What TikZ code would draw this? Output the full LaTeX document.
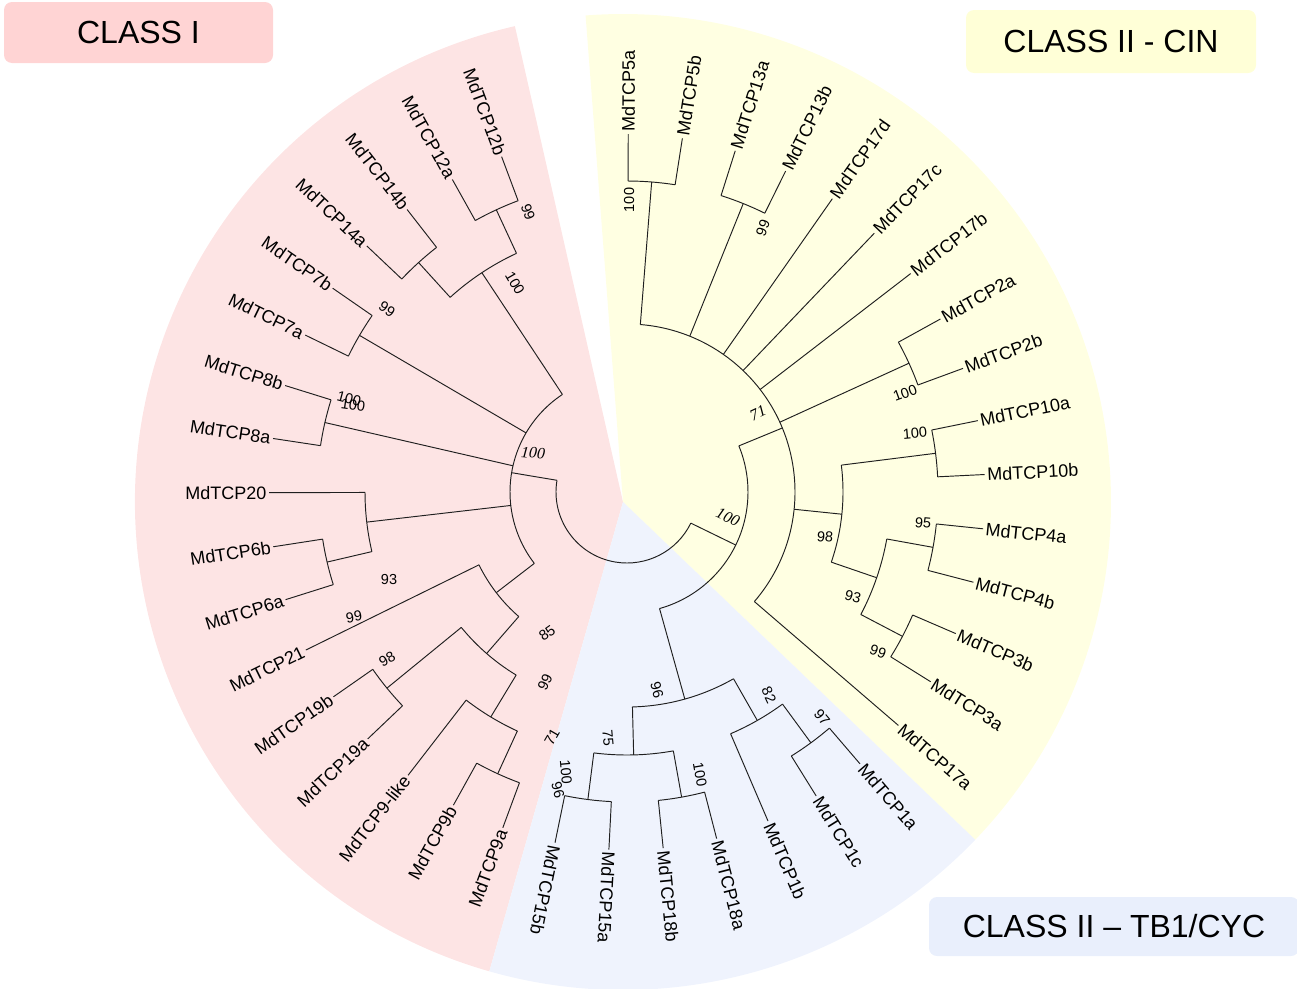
\documentclass[tikz,border=0pt]{standalone}
\usepackage{fontspec}
\setmainfont{Liberation Sans}
\newfontfamily\bsserif{Liberation Serif}
\usetikzlibrary{calc}
\definecolor{redw}{RGB}{253,228,228}
\definecolor{yelw}{RGB}{255,255,226}
\definecolor{bluew}{RGB}{239,243,253}
\definecolor{boxred}{RGB}{255,212,212}
\definecolor{boxyel}{RGB}{255,255,215}
\definecolor{boxblue}{RGB}{233,239,252}
\tikzset{
  branch/.style={line width=0.95pt, draw=black!88},
  leaf/.style={font=\fontsize{18}{20}\selectfont, inner sep=2.5pt},
  bs/.style={font=\fontsize{14.5}{16}\selectfont, inner sep=0pt},
  bss/.style={font=\bsserif\itshape\fontsize{16}{18}\selectfont, inner sep=0pt},
  classbox/.style={rounded corners=8pt, inner sep=0pt, font=\fontsize{32}{38}\selectfont}
}
\newcommand{\TArc}[3]{\draw[branch] ($(C)+(#1:#3)$) arc[start angle=#1,end angle=#2,radius=#3];}
\newcommand{\INode}[4]{%
  \coordinate (#1) at ($(C)+(#2:#3)$);
  \coordinate (#1b) at ($(C)+(#2:#4)$);
  \draw[branch] (#1b) -- (#1);}
\newcommand{\LeafR}[4]{%
  \coordinate (#1b) at ($(C)+(#3:#4)$);
  \node[leaf,anchor=west,rotate=#3] (#1) at ($(C)+(#3:358)$) {#2};
  \draw[branch] (#1b) -- (#1.west);}
\newcommand{\LeafL}[4]{%
  \coordinate (#1b) at ($(C)+(#3:#4)$);
  \node[leaf,anchor=east,rotate=#3+180] (#1) at ($(C)+(#3:358)$) {#2};
  \draw[branch] (#1b) -- (#1.east);}
\begin{document}
\begin{tikzpicture}[x=1pt,y=1pt]
\useasboundingbox (0,0) rectangle (1297,-988);
\coordinate (A) at (623,-502);
\coordinate (C) at (627,-492);
% sectors
\fill[redw] (A) -- ($(A)+(102.8:488)$) arc[start angle=102.8,end angle=254.1,radius=488] -- cycle;
\fill[yelw] (A) -- ($(A)+(-43.8:488)$) arc[start angle=-43.8,end angle=94.4,radius=488] -- cycle;
\fill[bluew] (A) -- ($(A)+(254.1:488)$) arc[start angle=254.1,end angle=316.2,radius=488] -- cycle;
% class boxes
\node[classbox, fill=boxred, minimum width=269pt, minimum height=61pt] (boxI) at (138.5,-32.5) {CLASS I};
\node[classbox, fill=boxyel, minimum width=290pt, minimum height=63pt] (boxCIN) at (1111,-41.5) {CLASS II - CIN};
\node[classbox, fill=boxblue, minimum width=370pt, minimum height=59pt] (boxTB) at (1114,-926.5) {CLASS II -- TB1/CYC};
% root
\TArc{170.5}{334}{71}
% ---------- Class I
\INode{cI}{170.5}{117}{71}
\TArc{123.5}{217.6}{117}
\INode{nA}{123.5}{263}{117}
\TArc{114.85}{132.25}{263}
\INode{nXII}{114.85}{311}{263}
\TArc{110.5}{119.2}{311}
\LeafL{lXIIa}{MdTCP12a}{119.2}{311}
\LeafL{lXIIb}{MdTCP12b}{110.5}{311}
\INode{nXIV}{132.25}{310}{263}
\TArc{127.9}{136.6}{310}
\LeafL{lXIVa}{MdTCP14a}{136.6}{310}
\LeafL{lXIVb}{MdTCP14b}{127.9}{310}
\INode{nVII}{149.65}{310}{117}
\TArc{145.3}{154}{310}
\LeafL{lVIIa}{MdTCP7a}{154}{310}
\LeafL{lVIIb}{MdTCP7b}{145.3}{310}
\INode{nVIII}{167.05}{310}{117}
\TArc{162.7}{171.4}{310}
\LeafL{lVIIIa}{MdTCP8a}{171.4}{310}
\LeafL{lVIIIb}{MdTCP8b}{162.7}{310}
\INode{nD}{186.6}{262}{117}
\TArc{180.1}{193.15}{262}
\LeafL{lXX}{MdTCP20}{180.1}{262}
\INode{nVI}{193.15}{308}{262}
\TArc{188.8}{197.5}{308}
\LeafL{lVIa}{MdTCP6a}{197.5}{308}
\LeafL{lVIb}{MdTCP6b}{188.8}{308}
\INode{nE}{217.6}{165}{117}
\TArc{206.2}{229}{165}
\LeafL{lXXI}{MdTCP21}{206.2}{165}
\INode{nEii}{229}{214}{165}
\TArc{219.25}{238.8}{214}
\INode{nXIX}{219.25}{310}{214}
\TArc{214.9}{223.6}{310}
\LeafL{lXIXa}{MdTCP19a}{223.6}{310}
\LeafL{lXIXb}{MdTCP19b}{214.9}{310}
\INode{nEiib}{238.8}{263}{214}
\TArc{232.3}{245.35}{263}
\LeafL{lIXlike}{MdTCP9-like}{232.3}{263}
\INode{nIX}{245.35}{310}{263}
\TArc{241}{249.7}{310}
\LeafL{lIXa}{MdTCP9a}{249.7}{310}
\LeafL{lIXb}{MdTCP9b}{241}{310}
% ---------- Class II
\INode{cII}{-26}{121}{71}
\TArc{-74.4}{22.4}{121}
\INode{cin}{22.4}{168}{121}
\TArc{-40.7}{85.45}{168}
\INode{nV}{85.45}{311}{168}
\TArc{81.1}{89.8}{311}
\LeafR{lVa}{MdTCP5a}{89.8}{311}
\LeafR{lVb}{MdTCP5b}{81.1}{311}
\INode{nXIII}{68.05}{311}{168}
\TArc{63.7}{72.4}{311}
\LeafR{lXIIIa}{MdTCP13a}{72.4}{311}
\LeafR{lXIIIb}{MdTCP13b}{63.7}{311}
\LeafR{lXVIId}{MdTCP17d}{55}{168}
\LeafR{lXVIIc}{MdTCP17c}{46.3}{168}
\LeafR{lXVIIb}{MdTCP17b}{37.6}{168}
\INode{nII}{24.55}{310}{168}
\TArc{20.2}{28.9}{310}
\LeafR{lIIa}{MdTCP2a}{28.9}{310}
\LeafR{lIIb}{MdTCP2b}{20.2}{310}
\INode{nG}{-5.9}{216}{168}
\TArc{-18.95}{7.15}{216}
\INode{nX}{7.15}{311}{216}
\TArc{2.8}{11.5}{311}
\LeafR{lXa}{MdTCP10a}{11.5}{311}
\LeafR{lXb}{MdTCP10b}{2.8}{311}
\INode{nIVIII}{-18.95}{264}{216}
\TArc{-27.65}{-10.25}{264}
\INode{nIV}{-10.25}{311}{264}
\TArc{-14.6}{-5.9}{311}
\LeafR{lIVa}{MdTCP4a}{-5.9}{311}
\LeafR{lIVb}{MdTCP4b}{-14.6}{311}
\INode{nIII}{-27.65}{311}{264}
\TArc{-32}{-23.3}{311}
\LeafR{lIIIb}{MdTCP3b}{-23.3}{311}
\LeafR{lIIIa}{MdTCP3a}{-32}{311}
\LeafR{lXVIIa}{MdTCP17a}{-40.7}{168}
\INode{tb}{-74.4}{215}{121}
\TArc{-88.55}{-60.3}{215}
\INode{nXVXVIII}{-88.55}{263}{215}
\TArc{-97.25}{-79.85}{263}
\INode{nXV}{-97.25}{310}{263}
\TArc{-101.6}{-92.9}{310}
\LeafR{lXVa}{MdTCP15a}{-92.9}{310}
\LeafR{lXVb}{MdTCP15b}{-101.6}{310}
\INode{nXVIII}{-79.85}{310}{263}
\TArc{-84.2}{-75.5}{310}
\LeafR{lXVIIIa}{MdTCP18a}{-75.5}{310}
\LeafR{lXVIIIb}{MdTCP18b}{-84.2}{310}
\INode{nI}{-60.3}{263}{215}
\TArc{-66.8}{-53.75}{263}
\LeafR{lIb}{MdTCP1b}{-66.8}{263}
\INode{nIac}{-53.75}{311}{263}
\TArc{-58.1}{-49.4}{311}
\LeafR{lIc}{MdTCP1c}{-58.1}{311}
\LeafR{lIa}{MdTCP1a}{-49.4}{311}
% ---------- bootstrap values
\node[bs,rotate=-70] (b1) at (528,-212) {99};
\node[bs,rotate=-60] (b2) at (515,-283) {100};
\node[bs,rotate=-35] (b3) at (387,-309) {99};
\node[bs,rotate=-15] (b4) at (349,-399) {100};
\node[bs,rotate=-8] (b5) at (353,-405) {100};
\node[bss,rotate=-5] (b6) at (533,-453) {100};
\node[bs] (b7) at (389,-579) {93};
\node[bs,rotate=10] (b8) at (354,-617) {99};
\node[bs,rotate=30] (b9) at (387,-659) {98};
\node[bs,rotate=35] (b10) at (547,-633) {85};
\node[bs,rotate=65] (b11) at (545,-682) {99};
\node[bs,rotate=60] (b12) at (552,-737) {71};
\node[bs,rotate=-75] (b13) at (657,-690) {96};
\node[bs,rotate=-85] (b14) at (608,-738) {75};
\node[bs,rotate=-85] (b15) at (566,-772) {100};
\node[bs,rotate=-75] (b16) at (558,-790) {96};
\node[bs,rotate=-80] (b17) at (700,-775) {100};
\node[bs,rotate=-65] (b18) at (769,-695) {82};
\node[bs,rotate=-50] (b19) at (822,-717) {97};
\node[bs,rotate=90] (b20) at (629,-200) {100};
\node[bs,rotate=70] (b21) at (763,-228) {99};
\node[bss,rotate=25] (b22) at (758,-413) {71};
\node[bs,rotate=20] (b23) at (905,-393) {100};
\node[bs,rotate=5] (b24) at (915,-433) {100};
\node[bs,rotate=-5] (b25) at (825,-537) {98};
\node[bs,rotate=-5] (b26) at (923,-523) {95};
\node[bs,rotate=-15] (b27) at (853,-597) {93};
\node[bs,rotate=-20] (b28) at (878,-652) {99};
\node[bss,rotate=-25] (b29) at (728,-517) {100};
\end{tikzpicture}
\end{document}
